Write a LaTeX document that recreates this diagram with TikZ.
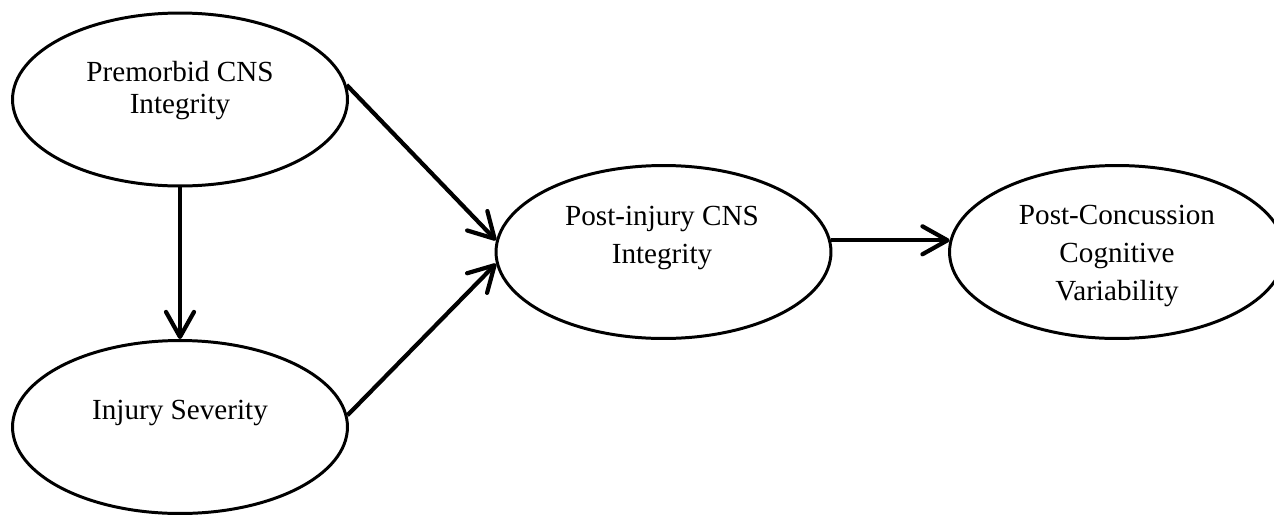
\documentclass[tikz,border=0pt]{standalone}
\usepackage{fontspec}
\setmainfont{Liberation Serif}
\usetikzlibrary{shapes.geometric, arrows.meta}

\begin{document}
\begin{tikzpicture}[x=0.02cm, y=-0.02cm,
    >={Straight Barb[length=0.5cm, width=0.56cm, round]},
    blob/.style={ellipse, draw, line width=1.7pt, minimum width=6.7cm, minimum height=3.46cm, inner sep=0pt},
    txt/.style={align=center, inner sep=0pt, font=\fontsize{16.6}{21.6}\selectfont},
    link/.style={->, line width=2.4pt}]

    \useasboundingbox (0,0) rectangle (1274,514);

    % --- 1. Ellipses ---
    \node [blob] (pre)  at (180,99.5) {};
    \node [blob] (inj)  at (180,427) {};
    \node [blob] (post) at (663.5,252) {};
    \node [blob] (pcv)  at (1117,252) {};

    % --- 2. Texts (set a bit high, as in the ellipses) ---
    \node [txt, font=\fontsize{16.6}{18.2}\selectfont] (pretxt) at (180,91) {Premorbid CNS\\Integrity};
    \node [txt] (injtxt)  at (180,413) {Injury Severity};
    \node [txt] (posttxt) at (662,238) {Post-injury CNS\\Integrity};
    \node [txt] (pcvtxt)  at (1117,256) {Post-Concussion\\Cognitive\\Variability};

    % --- 3. Paths ---
    \draw [link] (pre.south) -- (inj.north);
    \draw [link] (pre.5) -- (post.176);
    \draw [link] (inj.4) -- (post.184);
    \draw [link] (post.4) -- (pcv.176);

\end{tikzpicture}
\end{document}
